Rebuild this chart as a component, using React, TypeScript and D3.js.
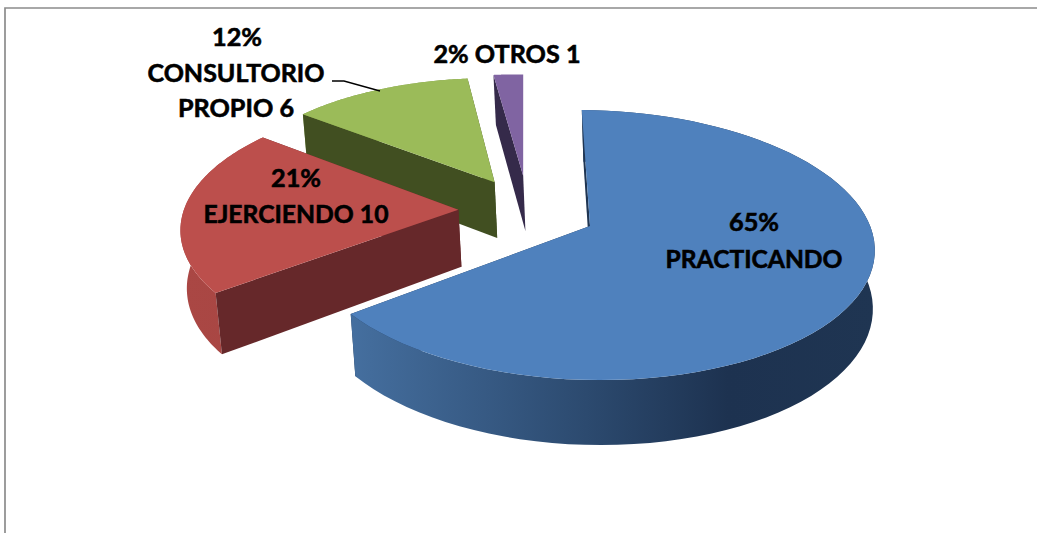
import React from "react";
import * as d3 from "d3";

const categories = ["PRACTICANDO", "EJERCIENDO", "CONSULTORIO PROPIO", "OTROS"];
const values = [31, 10, 6, 1];
const percents = ["65%", "21%", "12%", "2%"];

const W = 1037, H = 533;
const cx = 590, cy = 226, Rx = 282, Ry = 132.3, k = 0.1408, D = 58.5, m = 0.012, shear = 5.5, leanX = 1.5;
const startDeg = -1.9;
// explosion offset of each slice's apex on the unit disc, and its radius factor
const apex: [number, number][] = [[0, 0], [-0.4736, -0.105], [-0.354, -0.33], [-0.25, -0.39]];
const radius = [1, 0.98, 0.975, 0.96];
const showBack = [true, true, true, false];
const topCol = ["#4f81bd", "#bc4f4c", "#9bbb59", "#8064a2"];
const wallCol = ["#1f3552", "#66282a", "#414f21", "#352a4a"];
const gradStops: [number, string][][] = [
  [[0, "#456f9f"], [0.45, "#2c4a6f"], [0.72, "#1d3250"], [1, "#1f3552"]],
  [[0, "#aa4744"], [1, "#a84643"]],
  [[0, "#7f9a49"], [1, "#7f9a49"]],
  [[0, "#6a5288"], [1, "#6a5288"]],
];

function proj(u: number, v: number, d: number): [number, number] {
  const w = 1 - k * v + m * d;
  return [cx + (Rx * u) / w + leanX * d, cy + (Ry * v + D * d) / w + shear * u];
}

const pie = d3.pie<number>().sort(null).startAngle((startDeg * Math.PI) / 180).endAngle(((startDeg + 360) * Math.PI) / 180);
const arcs = pie(values);
const lineGen = d3.line();

function rim(a0: number, a1: number, off: [number, number], r: number, d: number) {
  const n = 80;
  return d3.range(n + 1).map((i) => {
    const a = a0 + ((a1 - a0) * i) / n;
    return proj(off[0] + r * Math.sin(a), off[1] - r * Math.cos(a), d);
  });
}

const drawOrder = [3, 2, 1, 0];

const labels: { text: string; x: number; y: number; len: number }[] = [
  { text: percents[0], x: 754, y: 231, len: 50 },
  { text: categories[0], x: 754, y: 268, len: 177 },
  { text: percents[1], x: 296, y: 187, len: 50 },
  { text: `${categories[1]} ${values[1]}`, x: 296, y: 223, len: 185 },
  { text: percents[2], x: 237, y: 46, len: 50 },
  { text: "CONSULTORIO", x: 236, y: 82, len: 177 },
  { text: `PROPIO ${values[2]}`, x: 236, y: 117, len: 116 },
  { text: `${percents[3]} ${categories[3]} ${values[3]}`, x: 507, y: 63, len: 147 },
];

export default function App() {
  return (
    <svg width={W} height={H} style={{ position: "fixed", left: 0, top: 0, background: "#fff" }}>
      <defs>
        {gradStops.map((stops, i) => {
          const pts = rim(arcs[i].startAngle, arcs[i].endAngle, apex[i], radius[i], 0);
          const [x0, x1] = d3.extent(pts, (p) => p[0]) as [number, number];
          return (
            <linearGradient key={i} id={`g${i}`} gradientUnits="userSpaceOnUse" x1={x0} x2={x1} y1={0} y2={0}>
              {stops.map(([o, c], j) => <stop key={j} offset={o} stopColor={c} />)}
            </linearGradient>
          );
        })}
      </defs>
      <path d="M5,533V8H1037" fill="none" stroke="#8c8c8c" strokeWidth={1.7} />
      {drawOrder.map((i) => {
        const a = arcs[i], off = apex[i];
        const pA0 = proj(off[0], off[1], 0), pA1 = proj(off[0], off[1], 1);
        const top0 = rim(a.startAngle, a.endAngle, off, radius[i], 0);
        const bot0 = rim(a.startAngle, a.endAngle, off, radius[i], 1);
        const wall = (idx: number) => lineGen([pA0, top0[idx], bot0[idx], pA1])! + "Z";
        const rimPath = lineGen([...top0, ...bot0.slice().reverse()])! + "Z";
        const topPath = lineGen([pA0, ...top0])! + "Z";
        return (
          <g key={categories[i]}>
            {showBack[i] && <path d={wall(top0.length - 1)} fill={wallCol[i]} />}
            {showBack[i] && <path d={rimPath} fill={`url(#g${i})`} />}
            <path d={wall(0)} fill={wallCol[i]} />
            <path d={topPath} fill={topCol[i]} />
          </g>
        );
      })}
      <path d="M332,81H344L380,91" fill="none" stroke="#000" strokeWidth={1.3} />
      {labels.map((l) => (
        <text
          key={l.text}
          x={l.x}
          y={l.y}
          textAnchor="middle"
          textLength={l.len}
          lengthAdjust="spacingAndGlyphs"
          fontFamily="Lato, sans-serif"
          fontWeight={700}
          fontSize={25.4}
          fill="#000"
          stroke="#000"
          strokeWidth={0.6}
        >
          {l.text}
        </text>
      ))}
    </svg>
  );
}
